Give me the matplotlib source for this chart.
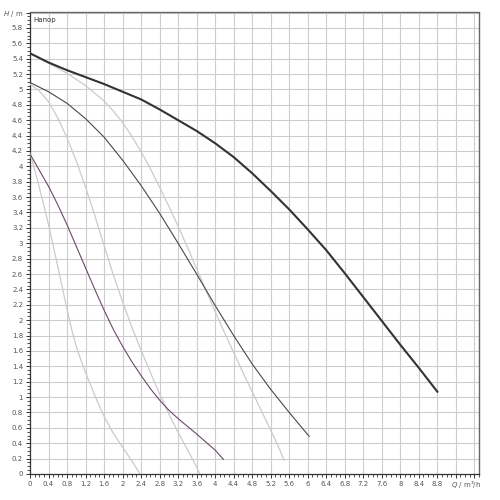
import numpy as np
import matplotlib
matplotlib.use("Agg")
import matplotlib.pyplot as plt
from matplotlib.ticker import MultipleLocator, FuncFormatter
import matplotlib.transforms as mtransforms

plt.rcParams['font.family'] = ['DejaVu Sans']
plt.rcParams['mathtext.fontset'] = 'dejavusans'

# max speed curve (thick)
qa = [0, 0.4, 0.8, 1.2, 1.6, 2.0, 2.4, 2.8, 3.2, 3.6, 4.0, 4.4, 4.8, 5.2, 5.6, 6.0, 6.4, 6.8, 7.2, 7.6, 8.0, 8.4, 8.8]
ha = [5.47, 5.35, 5.25, 5.16, 5.07, 4.97, 4.87, 4.74, 4.60, 4.46, 4.30, 4.12, 3.91, 3.68, 3.44, 3.18, 2.91, 2.61, 2.30, 1.99, 1.68, 1.38, 1.07]
# light curve from the same head
qa2 = [0, 0.4, 0.8, 1.2, 1.6, 1.8, 2.0, 2.2, 2.4, 2.6, 2.8, 3.0, 3.2, 3.4, 3.6, 3.8, 4.0, 4.2, 4.4, 4.6, 4.8, 5.0, 5.2, 5.4, 5.49]
ha2 = [5.47, 5.34, 5.21, 5.05, 4.85, 4.72, 4.57, 4.39, 4.19, 3.97, 3.73, 3.48, 3.22, 2.95, 2.67, 2.39, 2.11, 1.84, 1.58, 1.32, 1.07, 0.82, 0.57, 0.31, 0.18]

# middle speed
qb = [0, 0.4, 0.8, 1.2, 1.6, 2.0, 2.4, 2.8, 3.2, 3.6, 4.0, 4.4, 4.8, 5.2, 5.6, 6.03]
hb = [5.09, 4.97, 4.82, 4.62, 4.38, 4.08, 3.75, 3.39, 3.00, 2.60, 2.19, 1.80, 1.43, 1.10, 0.80, 0.49]
qb2 = [0, 0.2, 0.4, 0.6, 0.8, 1.0, 1.2, 1.4, 1.6, 1.8, 2.0, 2.2, 2.4, 2.6, 2.8, 3.0, 3.2, 3.4, 3.6, 3.67]
hb2 = [5.07, 4.98, 4.84, 4.63, 4.37, 4.07, 3.73, 3.36, 2.97, 2.59, 2.24, 1.91, 1.61, 1.32, 1.04, 0.78, 0.54, 0.32, 0.09, 0.0]

# low speed
qc = [0, 0.2, 0.4, 0.6, 0.8, 1.0, 1.2, 1.4, 1.6, 1.8, 2.0, 2.2, 2.4, 2.6, 2.8, 3.0, 3.2, 3.6, 4.0, 4.18]
hc = [4.16, 3.95, 3.74, 3.50, 3.24, 2.96, 2.68, 2.40, 2.13, 1.88, 1.66, 1.46, 1.28, 1.11, 0.96, 0.83, 0.72, 0.52, 0.31, 0.19]
qc2 = [0, 0.1, 0.2, 0.3, 0.4, 0.5, 0.6, 0.7, 0.8, 0.9, 1.0, 1.1, 1.2, 1.4, 1.6, 1.8, 2.0, 2.2, 2.38]
hc2 = [4.17, 3.96, 3.73, 3.49, 3.24, 2.97, 2.70, 2.42, 2.14, 1.88, 1.66, 1.48, 1.32, 1.02, 0.75, 0.53, 0.35, 0.17, 0.0]

fig = plt.figure(figsize=(5, 5), dpi=100)
ax = fig.add_axes([0.06, 0.052, 0.898, 0.923])

light = '#cbcbcb'
ax.plot(qa2, ha2, color=light, lw=0.9, zorder=3)
ax.plot(qb2, hb2, color=light, lw=0.9, zorder=3)
ax.plot(qc2, hc2, color=light, lw=0.9, zorder=3)
ax.plot(qc, hc, color='#6a4a6a', lw=0.8, zorder=4)
ax.plot(qb, hb, color='#474756', lw=0.8, zorder=4)
ax.plot(qa, ha, color='#333333', lw=1.5, zorder=5)

ax.set_xlim(0, 9.7)
ax.set_ylim(0, 6.0)

ax.xaxis.set_major_locator(MultipleLocator(0.4))
ax.xaxis.set_minor_locator(MultipleLocator(0.1))
ax.yaxis.set_major_locator(MultipleLocator(0.2))
ax.yaxis.set_minor_locator(MultipleLocator(0.05))

def xfmt(v, pos):
    if v > 8.9:
        return ''
    return ('%.1f' % v).rstrip('0').rstrip('.')

def yfmt(v, pos):
    if v > 5.9:
        return '$H$ / m'
    return ('%.1f' % v).rstrip('0').rstrip('.')

ax.xaxis.set_major_formatter(FuncFormatter(xfmt))
ax.yaxis.set_major_formatter(FuncFormatter(yfmt))

ax.tick_params(which='both', direction='out', colors='#333333', labelcolor='#555555', labelsize=5)
ax.tick_params(which='major', length=3, width=0.7, pad=2)
ax.tick_params(which='minor', length=2, width=0.6)

ax.grid(True, which='major', color='#cccccc', lw=0.8, zorder=0)

for side in ['left', 'bottom']:
    ax.spines[side].set_color('#333333')
    ax.spines[side].set_linewidth(0.9)
for side in ['top', 'right']:
    ax.spines[side].set_color('#666666')
    ax.spines[side].set_linewidth(1.0)

trans = mtransforms.blended_transform_factory(ax.transData, ax.transAxes)
ax.text(9.43, -0.022, '$Q$ / m³/h', transform=trans, ha='center', va='center',
        fontsize=5, color='#555555')
ax.text(0.08, 5.9, 'Напор', fontsize=5, color='#333333', va='center', ha='left', zorder=6)

fig.savefig('out.png', dpi=100)
